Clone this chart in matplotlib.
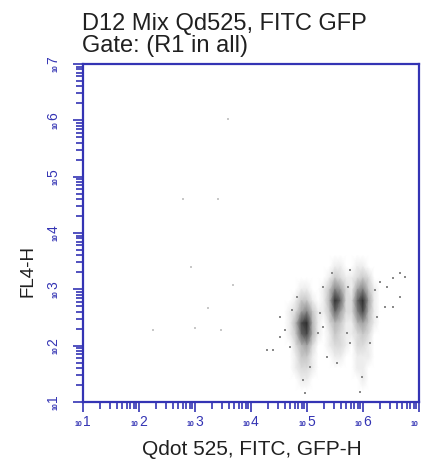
import numpy as np
import matplotlib.pyplot as plt
from matplotlib.colors import LinearSegmentedColormap
from matplotlib.ticker import LogLocator, NullFormatter

plt.rcParams['font.family'] = ['Liberation Sans', 'DejaVu Sans']

# density of the three populations (0 = empty, 9 = darkest)
# node exponents (log10) for the columns and rows of the map
dens_x = [4.3, 4.4, 4.5, 4.6, 4.7, 4.8, 4.9, 5.0, 5.1, 5.2, 5.3, 5.4, 5.5, 5.6,
          5.7, 5.8, 5.9, 6.0, 6.1, 6.2, 6.3, 6.4, 6.5, 6.6, 6.7, 6.8, 6.9]
dens_y = [3.8, 3.6, 3.4, 3.2, 3.0, 2.8, 2.6, 2.4, 2.2, 2.0, 1.8, 1.6, 1.4, 1.2]
dens_rows = [
    "000000000000000000000000000",
    "000000000000000000000000000",
    "000000000000110011000000000",
    "000000000001321123200000000",
    "000000110013652156310000000",
    "000001331014972279510000000",
    "000012563113752268410000000",
    "000014894102431145310000000",
    "000013784101321123200000000",
    "000002452001221022100000000",
    "000001331000110011100000000",
    "000001221000000011000000000",
    "000000110000000001000000000",
    "000000000000000000000000000",
]

# scattered events near the populations (log10 x, log10 y)
spr_x = [4.39, 4.52, 4.61, 4.73, 4.70, 5.20, 5.23, 5.29, 5.36, 5.73, 5.71, 6.21,
         6.30, 6.43, 6.54, 6.66, 6.75, 6.25, 5.77, 5.45, 4.93, 4.96, 5.98, 5.95,
         5.54, 4.82, 5.05, 6.54, 6.66, 6.39, 6.13, 5.77, 5.29, 4.52, 4.29]
spr_y = [1.92, 2.51, 2.28, 2.63, 1.98, 2.23, 2.58, 3.04, 1.80, 3.04, 2.23, 2.99,
         3.13, 3.04, 3.20, 3.29, 3.22, 2.51, 3.34, 3.29, 1.39, 1.16, 1.44, 1.18,
         1.69, 2.87, 1.62, 2.69, 2.87, 2.69, 2.05, 2.05, 2.33, 2.15, 1.92]

# faint stray events in the empty part of the plot
out_x = [3.59, 2.79, 3.41, 2.93, 3.68, 3.23, 3.00, 2.25, 3.46]
out_y = [6.03, 4.61, 4.61, 3.40, 3.08, 2.67, 2.31, 2.28, 2.28]

decades = [1, 2, 3, 4, 5, 6, 7]

blue = '#3434b4'

fig = plt.figure(figsize=(4.23, 4.59), dpi=100)
ax = fig.add_axes([83 / 423, 1 - 402 / 459, 336 / 423, 338 / 459])

dens = np.array([[int(c) for c in row] for row in dens_rows], dtype=float)
xx, yy = np.meshgrid(10.0 ** np.array(dens_x), 10.0 ** np.array(dens_y))
cmap = LinearSegmentedColormap.from_list('dots', ['#ffffff', '#a8a8a8', '#1e1e1e'])
ax.pcolormesh(xx, yy, dens, shading='gouraud', cmap=cmap, vmin=0, vmax=9.5,
              zorder=1, rasterized=True)

ax.scatter(10.0 ** np.array(spr_x), 10.0 ** np.array(spr_y), s=1.6, marker='s',
           color='#8a8a8a', linewidths=0, zorder=2)
ax.scatter(10.0 ** np.array(out_x), 10.0 ** np.array(out_y), s=2.5, marker='s',
           color='#c8c8c8', linewidths=0, zorder=2)

ax.set_xscale('log')
ax.set_yscale('log')
ax.set_xlim(10, 1e7)
ax.set_ylim(10, 1e7)

for a in (ax.xaxis, ax.yaxis):
    a.set_major_locator(LogLocator(base=10, numticks=10))
    a.set_minor_locator(LogLocator(base=10, subs=np.arange(2, 10), numticks=10))
    a.set_major_formatter(NullFormatter())
    a.set_minor_formatter(NullFormatter())
ax.tick_params(which='major', direction='out', length=7, width=1.2, color=blue)
ax.tick_params(which='minor', direction='out', length=5, width=1.2, color=blue)

for s in ax.spines.values():
    s.set_color(blue)
    s.set_linewidth(1.6)

# decade labels: small "10" with a large exponent
for e in decades:
    ax.annotate('10', xy=(10 ** e, 0), xycoords=('data', 'axes fraction'),
                xytext=(-0.5, -17.5), textcoords='offset points', ha='right',
                va='baseline', fontsize=5, fontweight='bold', color=blue,
                annotation_clip=False)
    if e < 7:  # the last exponent falls off the right edge
        ax.annotate(str(e), xy=(10 ** e, 0), xycoords=('data', 'axes fraction'),
                    xytext=(0, -17), textcoords='offset points', ha='left',
                    va='baseline', fontsize=10, color=blue, annotation_clip=False)
    ax.annotate('10', xy=(0, 10 ** e), xycoords=('axes fraction', 'data'),
                xytext=(-18, -0.5), textcoords='offset points', ha='right',
                va='baseline', fontsize=5, fontweight='bold', color=blue,
                rotation=90, rotation_mode='anchor', annotation_clip=False)
    ax.annotate(str(e), xy=(0, 10 ** e), xycoords=('axes fraction', 'data'),
                xytext=(-18.5, 0), textcoords='offset points', ha='left',
                va='baseline', fontsize=10, color=blue,
                rotation=90, rotation_mode='anchor', annotation_clip=False)

fig.text(82 / 423, 1 - 30 / 459, 'D12 Mix Qd525, FITC GFP', fontsize=17,
         color='#202020', ha='left', va='baseline')
fig.text(82 / 423, 1 - 52 / 459, 'Gate: (R1 in all)', fontsize=17,
         color='#202020', ha='left', va='baseline')
fig.text(252 / 423, 1 - 455 / 459, 'Qdot 525, FITC, GFP-H', fontsize=15,
         color='#202020', ha='center', va='baseline')
fig.text(32 / 423, 1 - 271 / 459, 'FL4-H', fontsize=13.5, color='#202020',
         ha='center', va='baseline', rotation=90, rotation_mode='anchor')

fig.savefig('out.png', dpi=100)
